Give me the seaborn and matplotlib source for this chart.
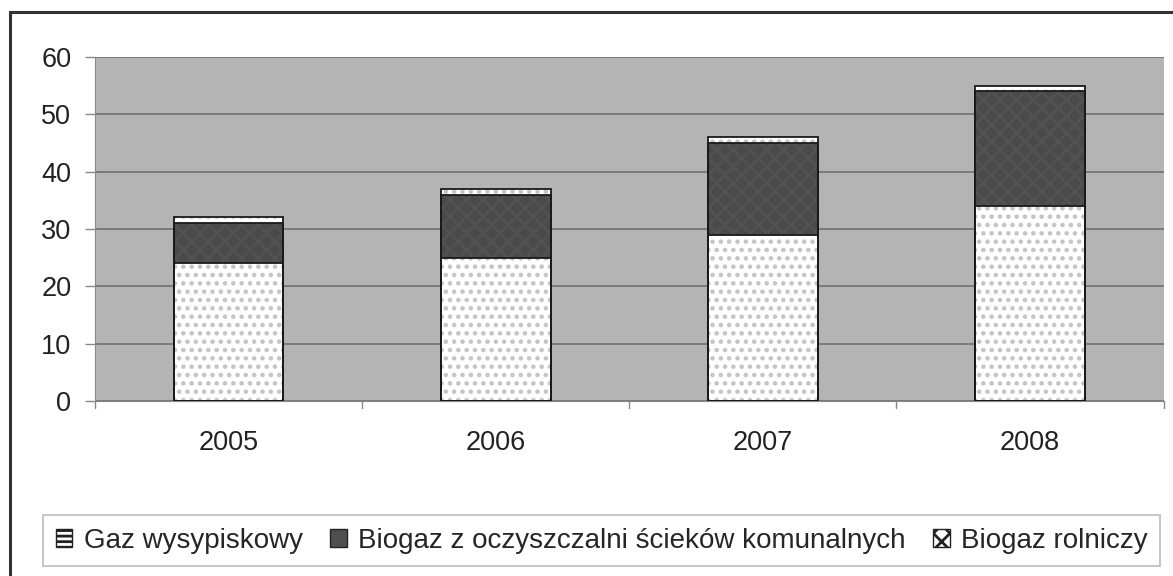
import numpy as np
import pandas as pd
import seaborn as sns
import matplotlib.pyplot as plt
from matplotlib.patches import Rectangle, Patch

# data
years = ["2005", "2006", "2007", "2008"]
gaz_wysypiskowy = [24, 25, 29, 34]
biogaz_oczyszczalnie = [7, 11, 16, 20]
biogaz_rolniczy = [1, 1, 1, 1]
labels = ["Gaz wysypiskowy", "Biogaz z oczyszczalni ścieków komunalnych", "Biogaz rolniczy"]

level1 = np.array(gaz_wysypiskowy)
level2 = level1 + np.array(biogaz_oczyszczalnie)
level3 = level2 + np.array(biogaz_rolniczy)

sns.set_style("white")
plt.rcParams["font.family"] = ["Liberation Sans", "DejaVu Sans"]
plt.rcParams["hatch.linewidth"] = 2.0

fig = plt.figure(figsize=(11.73, 5.76), dpi=100)
ax = fig.add_axes([0.081, 0.304, 0.911, 0.597])
ax.set_facecolor("#b4b4b4")

bw = 0.41
# stacked bars by overlapping cumulative totals (top layer first)
sns.barplot(x=years, y=level3, ax=ax, width=bw, color="white", hatch="..",
            edgecolor="#c4c4c4", linewidth=0, saturation=1, zorder=3)
sns.barplot(x=years, y=level2, ax=ax, width=bw, color="#4a4a4a", hatch="xx",
            edgecolor="#525252", linewidth=0, saturation=1, zorder=3)
sns.barplot(x=years, y=level1, ax=ax, width=bw, color="white", hatch="..",
            edgecolor="#c4c4c4", linewidth=0, saturation=1, zorder=3)
# outlines
for lvl in (level3, level2, level1):
    sns.barplot(x=years, y=lvl, ax=ax, width=bw, fill=False, color="#1a1a1a",
                linewidth=1.3, zorder=4)

ax.set_ylim(0, 60)
ax.set_xlim(-0.5, 3.5)
ax.set_yticks(range(0, 61, 10))
ax.yaxis.grid(True, color="#7a7a7a", linewidth=1.4, zorder=0)
ax.set_axisbelow(True)
ax.set_xlabel("")
ax.set_ylabel("")
ax.tick_params(axis="both", labelsize=19.5, colors="#222222", length=7, width=1,
               direction="out", left=True, bottom=False)
ax.tick_params(axis="y", pad=10, color="#888888")
ax.tick_params(axis="x", pad=14)
for x in np.arange(-0.5, 4.0, 1.0):
    ax.plot([x, x], [0, -1.3], color="#888888", lw=1, clip_on=False)
for s in ["top", "right"]:
    ax.spines[s].set_visible(False)
ax.spines["left"].set_color("#888888")
ax.spines["bottom"].set_color("#888888")

handles = [
    Patch(facecolor="white", edgecolor="#222222", hatch="---", linewidth=1),
    Patch(facecolor="#4f4f4f", edgecolor="#222222", linewidth=1),
    Patch(facecolor="white", edgecolor="#222222", hatch="xx", linewidth=1),
]
leg = fig.legend(handles, labels, loc="center", bbox_to_anchor=(0.513, 0.061), ncol=3,
                 fontsize=20, frameon=True, fancybox=False, handlelength=0.6,
                 handleheight=0.6, handletextpad=0.4, columnspacing=1.0,
                 borderpad=0.45, edgecolor="#bbbbbb")
leg.get_frame().set_linewidth(1.5)

# outer frame of the picture
fig.patches.append(Rectangle((10 / 1173, -0.1), 1.2, 1.1 - 12 / 576 + 0.0,
                             transform=fig.transFigure, fill=False,
                             edgecolor="#333333", linewidth=2.2))

plt.savefig("out.png", dpi=100)
